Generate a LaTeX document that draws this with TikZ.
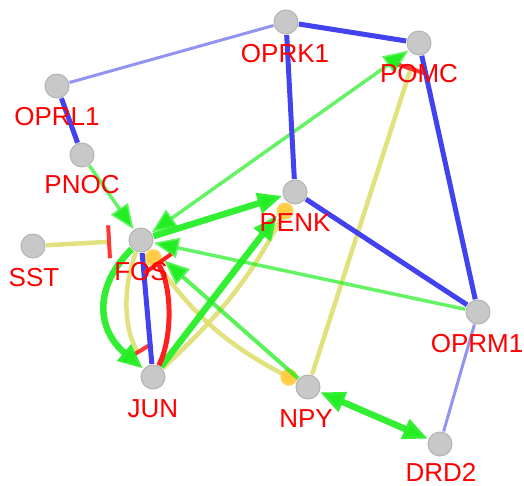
\documentclass[tikz,border=0pt]{standalone}
\usepackage{fontspec}
\setmainfont{Liberation Sans}
\usetikzlibrary{arrows.meta,backgrounds}
\definecolor{nodegray}{HTML}{C8C8C8}
\definecolor{nodeedge}{HTML}{B4B4B4}
\definecolor{eblue}{HTML}{4242EE}
\definecolor{lblue}{HTML}{8080F0}
\definecolor{egreen}{HTML}{22EE22}
\definecolor{eyellow}{HTML}{DEDE70}
\definecolor{ered}{HTML}{FF2020}
\definecolor{dotc}{HTML}{FFCC44}
\definecolor{lblc}{HTML}{FF0000}
\tikzset{
  gene/.style={circle, fill=nodegray, draw=nodeedge, line width=1pt, minimum size=24pt, inner sep=0pt, outer sep=1pt},
  lbl/.style={text=lblc, font=\fontsize{26}{30}\selectfont, inner sep=0pt, anchor=base},
  bthick/.style={draw=eblue, line width=5pt},
  bthin/.style={draw=lblue, line width=3pt, draw opacity=0.85},
  gthick/.style={draw=egreen, line width=6.5pt, draw opacity=0.92},
  gmed/.style={draw=egreen, line width=4pt, draw opacity=0.75},
  gthin/.style={draw=egreen, line width=3.5pt, draw opacity=0.7},
  ylw/.style={draw=eyellow, line width=4.5pt, draw opacity=0.9},
  redc/.style={draw=ered, line width=5pt},
  gtip/.tip={Triangle[length=25pt,width=20pt]},
  teetip/.tip={Bar[width=33pt,line width=4pt,color=ered]},
  dottip/.tip={Circle[length=17pt,fill=dotc,color=dotc]},
}
\begin{document}
\begin{tikzpicture}[x=1pt,y=1pt]
\useasboundingbox (0,0) rectangle (524,-486);
% nodes
\node[gene] (OPRK1) at (286,-22) {};
\node[gene] (POMC)  at (419,-43) {};
\node[gene] (OPRL1) at (57,-86) {};
\node[gene] (PNOC)  at (82,-155) {};
\node[gene] (PENK)  at (295,-192) {};
\node[gene] (FOS)   at (141,-240) {};
\node[gene] (SST)   at (33,-246) {};
\node[gene] (OPRM1) at (478,-312) {};
\node[gene] (JUN)   at (153,-377) {};
\node[gene] (NPY)   at (308,-387) {};
\node[gene] (DRD2)  at (440,-444) {};
% edges
\begin{scope}[on background layer]
  % light blue
  \draw[bthin] (OPRK1) -- (OPRL1);
  \draw[bthin] (OPRM1) -- (DRD2);
  % yellow
  \draw[ylw,-teetip,shorten >=17pt] (SST) -- (FOS);
  \draw[ylw,-teetip,shorten >=12pt] (NPY) -- (POMC);
  \draw[ylw,-teetip,shorten >=14pt] (FOS) .. controls (123,-285) and (123,-328) .. (JUN);
  \draw[ylw,-dottip] (JUN) to[bend right=10] (PENK);
  \draw[ylw,dottip-dottip] (FOS) to[bend right=14] (NPY);
  % green
  \draw[gthin,-gtip] (PNOC) -- (FOS);
  \draw[gthin,gtip-gtip] (FOS) -- (POMC);
  \draw[gthin,-gtip] (OPRM1) -- (FOS);
  \draw[gmed,-gtip,shorten >=18pt] (NPY) -- (FOS);
  \draw[gthick,-gtip] (FOS) -- (PENK);
  \draw[gthick,-gtip,shorten >=16pt] (JUN) -- (PENK);
  \draw[gthick,gtip-gtip] (NPY) -- (DRD2);
  \draw[gthick,-gtip] (FOS) .. controls (95,-285) and (95,-328) .. (JUN);
  % blue
  \draw[bthick] (OPRK1) -- (POMC);
  \draw[bthick] (OPRK1) -- (PENK);
  \draw[bthick] (POMC) -- (OPRM1);
  \draw[bthick] (PENK) -- (OPRM1);
  \draw[bthick] (OPRL1) -- (PNOC);
  \draw[bthick] (FOS) -- (JUN);
  % red
  \draw[redc,-teetip,shorten >=14pt] (JUN) .. controls (174,-335) and (171,-282) .. (FOS);
\end{scope}
% labels
\path (OPRK1) ++(-1,-41) node[lbl] (lOPRK1) {OPRK1};
\path (POMC)  ++(0,-40) node[lbl] (lPOMC) {POMC};
\path (OPRL1) ++(0,-40) node[lbl] (lOPRL1) {OPRL1};
\path (PNOC)  ++(0,-39) node[lbl] (lPNOC) {PNOC};
\path (PENK)  ++(0,-40) node[lbl] (lPENK) {PENK};
\path (FOS)   ++(0,-40) node[lbl] (lFOS) {FOS};
\path (SST)   ++(1,-40) node[lbl] (lSST) {SST};
\path (OPRM1) ++(-1,-40) node[lbl] (lOPRM1) {OPRM1};
\path (JUN)   ++(0,-40) node[lbl] (lJUN) {JUN};
\path (NPY)   ++(-2,-40) node[lbl] (lNPY) {NPY};
\path (DRD2)  ++(1,-37) node[lbl] (lDRD2) {DRD2};
\end{tikzpicture}
\end{document}
